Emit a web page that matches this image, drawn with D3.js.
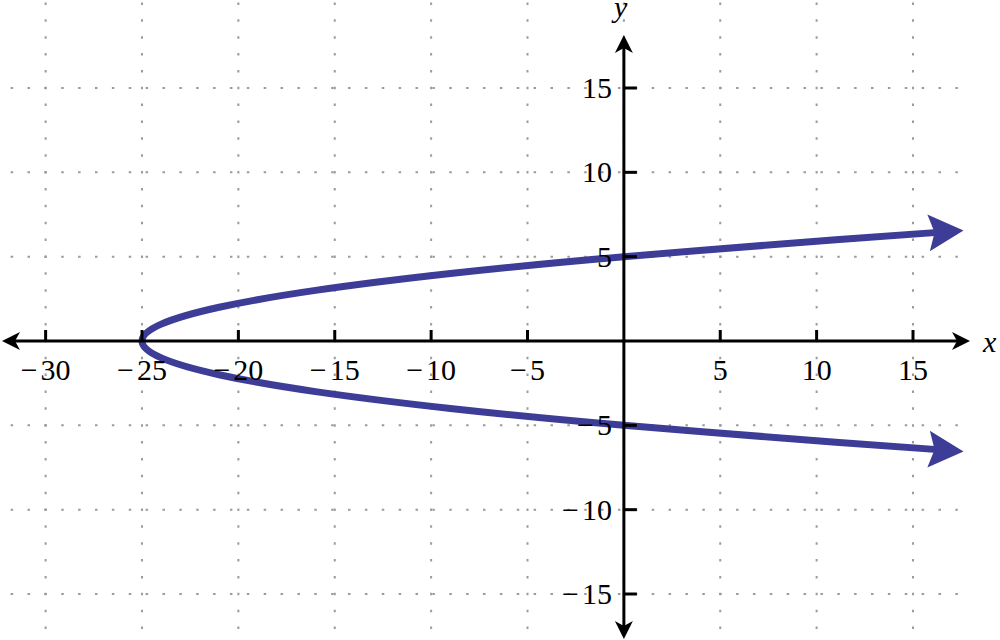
<!DOCTYPE html>
<html>
<head>
<meta charset="utf-8">
<script src="https://cdn.jsdelivr.net/npm/d3@7"></script>
</head>
<body style="margin:0">
<svg id="c" width="1000" height="640"></svg>
<script>
// ---- data ----
const xTicks = [-30, -25, -20, -15, -10, -5, 5, 10, 15];
const yTicks = [-15, -10, -5, 5, 10, 15];
const xGrid = [-30, -25, -20, -15, -10, -5, 0, 5, 10, 15];
const yGrid = [-15, -10, -5, 0, 5, 10, 15];
// points (sideways parabola), bottom to top
const curveY = [-6.5, -6, -5, -4, -3, -2, -1, 0, 1, 2, 3, 4, 5, 6, 6.5];
const curveX = [17, 11, 0, -9, -16, -21, -24, -25, -24, -21, -16, -9, 0, 11, 17];

// ---- layout ----
const W = 1000, H = 640;
const svg = d3.select("#c");
const x = d3.scaleLinear().domain([-25, 15]).range([142, 913]);
const y = d3.scaleLinear().domain([-15, 15]).range([594, 88]);

const gridColor = "#9b9b9b";
const curveColor = "#3d3d98";
const FONT = '"Liberation Serif"';
const FS = "30px";

// ---- grid ----
const gGrid = svg.append("g");
const period = 16.87;
gGrid.selectAll("line.v").data(xGrid).join("line")
  .attr("x1", d => x(d)).attr("x2", d => x(d))
  .attr("y1", 0).attr("y2", H)
  .attr("stroke", gridColor).attr("stroke-width", 2)
  .attr("stroke-dasharray", `2.5 ${period - 2.5}`)
  .attr("stroke-dashoffset", () => -((y(15) - 1.25) % period));
gGrid.selectAll("line.h").data(yGrid.filter(d => d !== 0)).join("line")
  .attr("x1", 0).attr("x2", 960)
  .attr("y1", d => y(d)).attr("y2", d => y(d))
  .attr("stroke", gridColor).attr("stroke-width", 2)
  .attr("stroke-dasharray", `2.5 ${period - 2.5}`)
  .attr("stroke-dashoffset", () => -((x(-30) - 1.25) % period));

// ---- curve ----
const pts = curveY.map((v, i) => [curveX[i], v]);
const line = d3.line().x(d => x(d[0])).y(d => y(d[1])).curve(d3.curveNatural);
svg.append("path").attr("d", line(pts))
  .attr("fill", "none").attr("stroke", curveColor).attr("stroke-width", 7);

function arrowPath(L, Wd, N) {
  return `M0,0 L${-L},${-Wd} L${-L + N},0 L${-L},${Wd} Z`;
}
function addArrow(px, py, ang, L, Wd, N, color) {
  svg.append("path").attr("d", arrowPath(L, Wd, N))
    .attr("fill", color)
    .attr("transform", `translate(${px},${py}) rotate(${ang * 180 / Math.PI})`);
}
// curve end arrows, oriented along the tangent (dx/dy = 2y)
[pts[pts.length - 1], pts[0]].forEach(e => {
  const ex = x(e[0]), ey = y(e[1]);
  const dx = Math.abs(2 * e[1] * (x(1) - x(0)));
  const dy = e[1] > 0 ? (y(1) - y(0)) : (y(0) - y(1));
  const a = Math.atan2(dy, dx);
  const ext = 12;
  addArrow(ex + ext * Math.cos(a), ey + ext * Math.sin(a), a, 35, 18.5, 6, curveColor);
});

// ---- axes ----
const gAx = svg.append("g");
const axX0 = 2, axX1 = 970, axY0 = 35, axY1 = 639;
gAx.append("line").attr("x1", axX0 + 8).attr("x2", axX1 - 8)
  .attr("y1", y(0)).attr("y2", y(0)).attr("stroke", "#000").attr("stroke-width", 3);
gAx.append("line").attr("x1", x(0)).attr("x2", x(0))
  .attr("y1", axY0 + 8).attr("y2", axY1 - 8).attr("stroke", "#000").attr("stroke-width", 3);
addArrow(axX1, y(0), 0, 18, 9, 5, "#000");
addArrow(axX0, y(0), Math.PI, 18, 9, 5, "#000");
addArrow(x(0), axY0, -Math.PI / 2, 18, 9, 5, "#000");
addArrow(x(0), axY1, Math.PI / 2, 18, 9, 5, "#000");

// ticks
gAx.selectAll("line.xt").data(xTicks).join("line")
  .attr("x1", d => x(d)).attr("x2", d => x(d))
  .attr("y1", y(0)).attr("y2", y(0) - 11)
  .attr("stroke", "#000").attr("stroke-width", 3);
gAx.selectAll("line.yt").data(yTicks).join("line")
  .attr("x1", x(0)).attr("x2", x(0) + 13)
  .attr("y1", d => y(d)).attr("y2", d => y(d))
  .attr("stroke", "#000").attr("stroke-width", 3);

// ---- labels ----
function label(sel) {
  sel.style("font-family", FONT).style("font-size", FS).attr("fill", "#000");
  sel.each(function (d) {
    const t = d3.select(this);
    if (d < 0) {
      t.append("tspan").text("\u2212");
      t.append("tspan").attr("dx", 3).text(String(Math.abs(d)));
    } else {
      t.text(String(d));
    }
  });
}
const gL = svg.append("g");
gL.selectAll("text.xl").data(xTicks).join("text")
  .attr("x", d => x(d)).attr("y", y(0) + 39)
  .attr("text-anchor", "middle").call(label);
gL.selectAll("text.yl").data(yTicks).join("text")
  .attr("x", x(0) - 12).attr("y", d => y(d) + 10)
  .attr("text-anchor", "end").call(label);
gL.append("text").attr("x", 983).attr("y", 352)
  .style("font-family", FONT).style("font-size", FS).style("font-style", "italic").text("x");
gL.append("text").attr("x", 614).attr("y", 17)
  .style("font-family", FONT).style("font-size", FS).style("font-style", "italic").text("y");
</script>
</body>
</html>
